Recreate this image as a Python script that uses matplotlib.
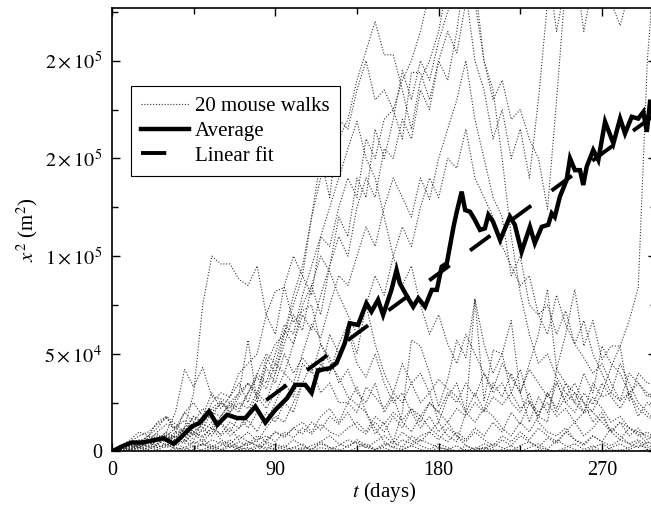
import numpy as np
import matplotlib
matplotlib.use("Agg")
import matplotlib.pyplot as plt
from matplotlib.ticker import MultipleLocator, FixedLocator, FixedFormatter

plt.rcParams['font.family'] = 'serif'
plt.rcParams['font.serif'] = ['Liberation Serif', 'DejaVu Serif']
plt.rcParams['mathtext.fontset'] = 'stix'

# ---------------- data (values in thousands of m^2) ----------------
walk_days = list(range(0, 301, 5))

walk01 = [0,1,2,4,3,6,8,5,12,30,75,100,96,96,88,85,95,70,82,84,66,
          72,75,55,45,38,28,24,20,12,5,2,1,3,1,0,2,1,0,1,0,
          2,1,0,1,0,0,1,0,0,1,0,0,1,0,0,1,0,0,1,0]
walk02 = [0,2,3,5,8,6,10,20,42,33,43,28,27,25,30,57,25,43,35,50,40,
          48,42,30,35,25,25,33,20,9,15,5,20,57,54,40,23,37,57,48,78,
          26,52,50,67,30,45,60,83,42,60,83,54,67,47,54,54,26,40,35,34]
walk03 = [0,1,3,2,5,8,6,10,9,15,12,20,25,22,30,35,28,45,55,60,80,
          95,120,150,130,170,165,185,200,180,185,175,190,200,215,235,260,280,300,320,310,
          290,270,260,250,240,245,260,270,255,250,260,270,255,240,230,218,235,250,260,270]
walk04 = [0,2,1,4,6,5,9,7,12,18,15,25,30,28,40,45,50,70,60,85,100,
          90,120,140,150,160,170,190,205,220,203,203,185,165,190,200,215,240,260,250,230,
          200,185,150,110,81,60,45,50,38,30,25,20,28,22,15,18,12,10,8,6]
walk05 = [0,0,2,3,1,4,6,8,5,10,14,12,18,25,22,30,40,35,50,65,60,
          80,95,110,105,125,140,130,160,150,170,175,160,194,194,180,200,215,204,230,240,
          200,180,190,170,175,160,150,124,180,240,250,215,240,260,270,280,290,300,310,300]
walk06 = [0,1,0,2,1,3,2,4,2,5,3,6,4,2,5,3,6,8,5,10,7,
          12,9,14,10,8,12,15,10,18,14,20,16,22,18,25,20,15,22,18,25,
          20,28,24,30,22,26,20,25,18,22,15,20,21,30,43,54,67,84,200,260]
walk07 = [0,3,5,4,8,12,18,10,20,15,22,18,25,20,25,22,30,25,40,55,70,
          62,85,100,92,80,70,60,75,55,40,30,45,35,25,30,15,28,35,20,30,
          21,35,28,40,30,15,28,20,35,25,30,20,35,28,30,26,40,35,30,25]
walk08 = [0,1,2,1,3,2,4,1,2,0,1,3,1,0,2,1,3,2,1,0,2,
          1,3,5,2,1,0,2,4,1,2,0,1,3,6,4,2,1,3,0,2,
          1,4,2,0,3,5,2,1,0,2,4,1,3,0,2,4,1,3,2,1]
walk09 = [0,2,4,6,5,10,14,12,16,10,8,12,6,4,8,5,3,6,10,8,12,
          15,10,18,22,15,25,20,33,28,22,30,25,35,40,30,37,32,28,20,15,
          22,18,12,8,15,10,18,15,42,35,30,25,20,15,10,15,12,8,10,6]
walk10 = [0,1,2,4,3,7,5,9,12,8,15,20,18,24,20,30,38,32,45,40,55,
          70,62,80,95,110,100,125,140,130,155,150,170,160,185,175,200,190,215,250,270,
          260,280,300,290,270,250,240,250,215,240,260,280,290,300,310,320,310,320,330,340]
walk11 = [0,2,1,3,6,4,8,12,10,18,14,22,26,20,28,35,30,48,40,60,75,
          90,80,110,125,140,155,169,150,140,120,100,85,95,75,60,70,55,45,60,50,
          40,30,35,25,20,30,15,10,8,12,6,4,8,5,3,6,4,2,5,3]
walk12 = [0,0,1,0,2,1,0,2,1,3,0,2,5,3,1,0,2,4,1,3,0,
          2,1,4,2,0,3,5,2,1,4,2,6,4,8,10,6,12,8,3,1,
          4,2,6,3,8,5,2,7,4,10,6,3,8,5,12,8,4,6,3,2]
walk13 = [0,1,3,2,4,6,3,5,8,4,6,3,1,4,2,5,3,1,4,2,6,
          3,1,5,8,4,2,6,3,1,3,5,2,8,5,10,15,8,5,20,78,
          55,40,50,30,42,25,18,30,22,35,25,40,30,54,45,40,30,22,18,15]
walk14 = [0,2,5,8,10,14,17,12,20,25,18,30,22,28,35,25,40,50,45,62,55,
          75,85,70,95,120,110,140,130,165,150,170,195,180,200,190,210,225,240,235,200,
          185,160,175,150,165,140,180,230,250,260,270,260,280,275,270,290,300,295,310,320]
walk15 = [0,3,6,10,8,15,18,14,10,6,12,8,15,10,18,12,20,15,25,35,28,
          45,40,55,48,35,42,30,25,35,20,28,15,10,18,12,8,5,10,6,12,
          8,15,10,20,14,25,18,30,20,28,35,25,15,20,10,15,8,12,6,10]
walk16 = [0,1,4,2,5,3,8,6,4,10,7,12,9,15,12,20,28,22,30,40,35,
          50,65,58,75,90,85,100,115,105,125,140,130,120,140,129,150,165,180,200,170,
          150,130,120,90,100,75,70,60,80,65,55,67,50,40,30,45,35,25,20,15]
walk17 = [0,0,1,2,0,1,3,2,0,1,4,2,0,3,1,2,0,5,3,1,2,
          4,0,2,1,3,6,4,2,5,8,4,10,6,3,1,4,2,0,3,1,
          2,0,1,3,0,2,4,1,6,3,1,0,2,4,1,0,2,5,1,0]
walk18 = [0,2,1,3,5,2,4,8,6,12,10,15,8,12,6,10,5,12,18,15,25,
          35,45,40,60,50,62,45,38,50,35,25,30,20,12,18,10,15,8,5,10,
          6,3,8,5,10,6,12,8,5,10,15,8,12,18,10,6,12,9,4,7]
walk19 = [0,1,3,5,2,6,10,7,12,9,5,10,14,8,12,16,10,20,15,25,20,
          35,30,45,40,55,65,50,75,90,80,100,115,105,125,140,130,150,145,165,140,
          130,120,105,95,85,90,70,75,60,72,55,48,40,45,35,26,30,35,28,32]
walk20 = [0,2,5,3,7,9,5,3,6,2,4,1,3,6,2,4,8,5,10,7,12,
          9,15,11,18,14,20,12,9,15,10,18,12,22,15,25,20,30,25,35,28,
          40,32,45,38,30,42,35,28,36,25,20,30,24,35,28,22,30,18,25,20]

walks = [walk01, walk02, walk03, walk04, walk05, walk06, walk07, walk08, walk09, walk10,
         walk11, walk12, walk13, walk14, walk15, walk16, walk17, walk18, walk19, walk20]

avg_days = [0,5.5,11,16.5,22,28.5,34,38.5,44,48,53.5,58,63.5,69,73.5,79,84.5,90,96.5,101,
            106.5,110,113.5,120,123.7,128.3,131,135.6,140.2,143,146.6,149.4,154,156.8,158.6,
            163.2,166,168.8,172.5,176.2,179,181.7,184.5,188.2,190,192.7,194.6,197.3,200,202.8,
            205.5,207.4,210,213.9,219.3,222,225.7,230.3,233,236.8,240.4,242.3,244,246.8,250.5,
            252.4,255.1,257.9,259.7,261.6,265.2,268,271.7,276.3,280,282.7,286.4,290,292.8,294.7,296.5]
avg_vals = [0,2.6,4.6,4.6,5.6,6.8,3.9,7.7,12.8,14.5,20.5,13.7,18.8,17.1,17.1,23,14.8,21.3,27.3,34.1,
            34.1,30,41.5,42.6,45.2,55.4,65.6,64.8,75.9,71.6,77.6,69.9,82.7,92.9,86.1,
            78.4,74.1,78.4,74.1,82.7,82.7,94.6,96.3,115,122.7,133,123.6,122.7,118.5,113.4,
            114.2,121.1,117.6,108.2,120.2,116,102.2,115,106.6,115,116,121.9,120,130.4,138.9,
            150,144,144,136.4,145.8,154.3,149.2,168.8,157.7,170.4,162.8,171.3,170.4,173.8,163.6,179]

fit_days = [85, 300]
fit_vals = [26.3, 172.9]

x_ticks = [0, 90, 180, 270]
y_ticks = [0, 50000, 100000, 150000, 200000]
y_tick_labels = ['0', r'$5\times10^4$', r'$1\times10^5$', r'$2\times10^5$', r'$2\times10^5$']

# ---------------- figure ----------------
fig = plt.figure(figsize=(6.51, 5.12), dpi=100)
ax = fig.add_axes([0.1720, 0.1182, 0.8363, 0.8662])

wd = np.array(walk_days)
for i, w in enumerate(walks):
    ax.plot(wd, np.array(w) * 1000, color='0.2', lw=0.8, ls=(0, (1.0, 1.6)),
            label='20 mouse walks' if i == 0 else None, zorder=2)

ax.plot(avg_days, np.array(avg_vals) * 1000, color='black', lw=3.2,
        solid_joinstyle='miter', label='Average', zorder=4)
ax.plot(fit_days, np.array(fit_vals) * 1000, color='black', lw=2.8,
        dashes=(6.5, 6.5), solid_capstyle='butt', label='Linear fit', zorder=3)

ax.set_xlim(0, 300)
ax.set_ylim(0, 227000)

ax.xaxis.set_major_locator(FixedLocator(x_ticks))
ax.xaxis.set_minor_locator(MultipleLocator(45))
ax.yaxis.set_major_locator(FixedLocator(y_ticks))
ax.yaxis.set_major_formatter(FixedFormatter(y_tick_labels))
ax.yaxis.set_minor_locator(MultipleLocator(25000))

ax.tick_params(which='both', direction='in', top=True, right=True, width=1.0, labelsize=14.5)
ax.tick_params(which='major', length=6, pad=7)
ax.tick_params(which='minor', length=4.5)
for s in ax.spines.values():
    s.set_linewidth(1.2)

ax.set_xlabel(r'$t$ (days)', fontsize=15, labelpad=0)
ax.set_ylabel(r'$x^2$ (m$^2$)', fontsize=15, labelpad=3)

leg = ax.legend(loc='upper left', bbox_to_anchor=(0.035, 0.824), fontsize=15,
                frameon=True, fancybox=False, edgecolor='black', framealpha=1,
                handlelength=2.3, handletextpad=0.25, labelspacing=0.25,
                borderpad=0.5, borderaxespad=0)
leg.get_frame().set_linewidth(0.8)

fig.savefig('out.png', dpi=100)
